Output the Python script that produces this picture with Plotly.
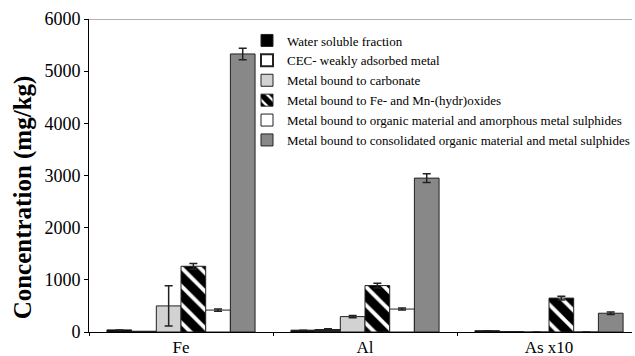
import plotly.graph_objects as go

categories = ["Fe", "Al", "As x10"]
series_names = [
    "Water soluble fraction",
    "CEC- weakly adsorbed metal",
    "Metal bound to carbonate",
    "Metal bound to Fe- and Mn-(hydr)oxides",
    "Metal bound to organic material and amorphous metal sulphides",
    "Metal bound to consolidated organic material and metal sulphides",
]
water = [40, 35, 25]
water_err = [0, 0, 0]
cec = [5, 40, 0]
cec_err = [0, 20, 0]
carbonate = [500, 295, 0]
carbonate_err = [385, 20, 0]
oxides = [1260, 890, 650]
oxides_err = [55, 45, 35]
organic = [420, 440, 0]
organic_err = [20, 20, 0]
consolidated = [5330, 2950, 360]
consolidated_err = [110, 85, 25]

values = [water, cec, carbonate, oxides, organic, consolidated]
errors = [water_err, cec_err, carbonate_err, oxides_err, organic_err, consolidated_err]

fills = ["#000000", "#ffffff", "#d2d2d2", "#ffffff", "#ffffff", "#888888"]
outline_w = [1, 2, 1, 1, 1, 1]

SERIF = "Liberation Serif, Times New Roman, serif"

fig = go.Figure()
for i, name in enumerate(series_names):
    marker = dict(color=fills[i], line=dict(color="#222222", width=outline_w[i]))
    if i == 3:
        marker["pattern"] = dict(shape="\\", fgcolor="#000000", bgcolor="#ffffff",
                                 fgopacity=1, size=13, solidity=0.7)
    fig.add_trace(go.Bar(
        x=categories, y=values[i], name=name, marker=marker,
        error_y=dict(type="data", array=errors[i], visible=True,
                     color="#222222", thickness=1.5, width=4),
    ))

fig.add_shape(type="line", xref="paper", yref="y", x0=0, x1=1, y0=6000, y1=6000,
              line=dict(color="#9a9a9a", width=1.5))

fig.add_annotation(text="<b>Concentration (mg/kg)</b>", textangle=-90,
                   xref="paper", yref="paper", x=(23 - 89) / 546, y=(332 - 197) / 313,
                   xanchor="center", yanchor="middle", showarrow=False,
                   font=dict(family=SERIF, size=25, color="#000000"))

fig.update_layout(
    width=635, height=356,
    margin=dict(l=89, r=0, t=19, b=24),
    paper_bgcolor="white", plot_bgcolor="white",
    barmode="group", bargap=0.195, bargroupgap=0,
    font=dict(family=SERIF, color="#000000"),
    showlegend=True,
    legend=dict(x=(248 - 89) / 546, xanchor="left", y=1 - (25.5 - 19) / 313, yanchor="top",
                bgcolor="rgba(0,0,0,0)", font=dict(family=SERIF, size=13),
                tracegroupgap=0),
    xaxis=dict(range=[-0.5, 2.451], showline=True, linecolor="#000000", linewidth=1,
               ticks="outside", tickson="boundaries", ticklen=3, tickcolor="#000000",
               tickfont=dict(family=SERIF, size=17), showgrid=False, automargin=False),
    yaxis=dict(range=[0, 6000], tickvals=[0, 1000, 2000, 3000, 4000, 5000, 6000],
               showline=True, linecolor="#000000", linewidth=1, ticks="outside",
               ticklen=4, tickcolor="#000000", showgrid=False, zeroline=False,
               tickfont=dict(family=SERIF, size=18), automargin=False),
)

fig.write_html("out.html")
